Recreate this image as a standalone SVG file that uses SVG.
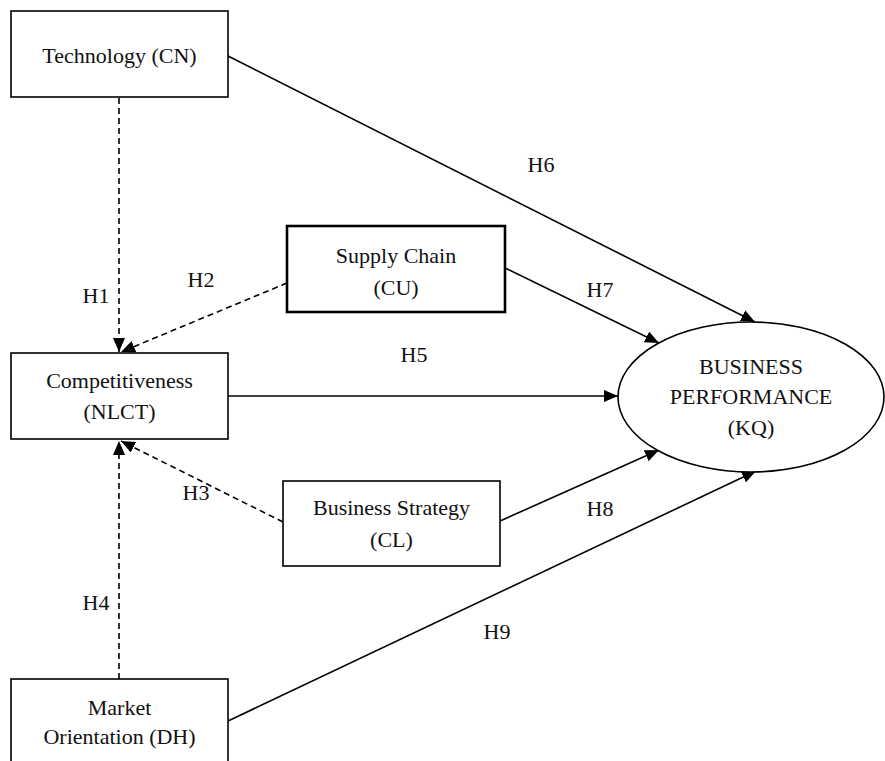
<svg xmlns="http://www.w3.org/2000/svg" width="885" height="761" viewBox="0 0 885 761">
<defs>
<style>
.box{fill:#fff;stroke:#000;stroke-width:1.6}
.thick{stroke-width:2.6}
.t{font-family:"Liberation Serif","Times New Roman",serif;font-size:22px;fill:#111;text-anchor:middle}
.c{stroke:#000;stroke-width:1.6;fill:none;marker-end:url(#ah)}
.d{stroke-dasharray:6 4}
</style>
<marker id="ah" viewBox="0 0 14 12" refX="14" refY="6" markerWidth="14" markerHeight="12" markerUnits="userSpaceOnUse" orient="auto">
<path d="M0,0 L14,6 L0,12 Z" fill="#000"/>
</marker>
</defs>
<rect width="885" height="761" fill="#fff"/>
<g id="connectors">
<line class="c d" x1="119" y1="98" x2="119" y2="352"/>
<line class="c d" x1="287" y1="283" x2="121" y2="352"/>
<line class="c d" x1="283" y1="522" x2="121" y2="441"/>
<line class="c d" x1="119" y1="679" x2="119" y2="441"/>
<line class="c" x1="228" y1="396" x2="618" y2="396"/>
<line class="c" x1="228" y1="56" x2="755" y2="322"/>
<line class="c" x1="505" y1="268" x2="659" y2="343"/>
<line class="c" x1="500" y1="521" x2="659" y2="450"/>
<line class="c" x1="228" y1="721" x2="756" y2="471"/>
</g>
<g id="labels">
<text class="t" x="541" y="172">H6</text>
<text class="t" x="96" y="303">H1</text>
<text class="t" x="201" y="287">H2</text>
<text class="t" x="600" y="297">H7</text>
<text class="t" x="414" y="362">H5</text>
<text class="t" x="196" y="500">H3</text>
<text class="t" x="600" y="516">H8</text>
<text class="t" x="96" y="610">H4</text>
<text class="t" x="497" y="639">H9</text>
</g>
<g id="technology">
<rect class="box" x="11" y="11" width="217" height="86"/>
<text class="t" x="119.5" y="63">Technology (CN)</text>
</g>
<g id="supply-chain">
<rect class="box thick" x="287" y="226" width="218" height="86"/>
<text class="t" x="396" y="263">Supply Chain</text>
<text class="t" x="396" y="295">(CU)</text>
</g>
<g id="competitiveness">
<rect class="box" x="11" y="353" width="217" height="86"/>
<text class="t" x="119.5" y="388">Competitiveness</text>
<text class="t" x="119.5" y="419">(NLCT)</text>
</g>
<g id="business-strategy">
<rect class="box" x="283" y="481" width="217" height="85"/>
<text class="t" x="391.5" y="515">Business Strategy</text>
<text class="t" x="391.5" y="547">(CL)</text>
</g>
<g id="market-orientation">
<rect class="box" x="11" y="679" width="217" height="90"/>
<text class="t" x="119.5" y="715">Market</text>
<text class="t" x="119.5" y="744">Orientation (DH)</text>
</g>
<g id="business-performance">
<ellipse class="box" cx="751" cy="397" rx="133" ry="75"/>
<text class="t" x="751" y="374">BUSINESS</text>
<text class="t" x="751" y="404">PERFORMANCE</text>
<text class="t" x="751" y="435">(KQ)</text>
</g>
</svg>
